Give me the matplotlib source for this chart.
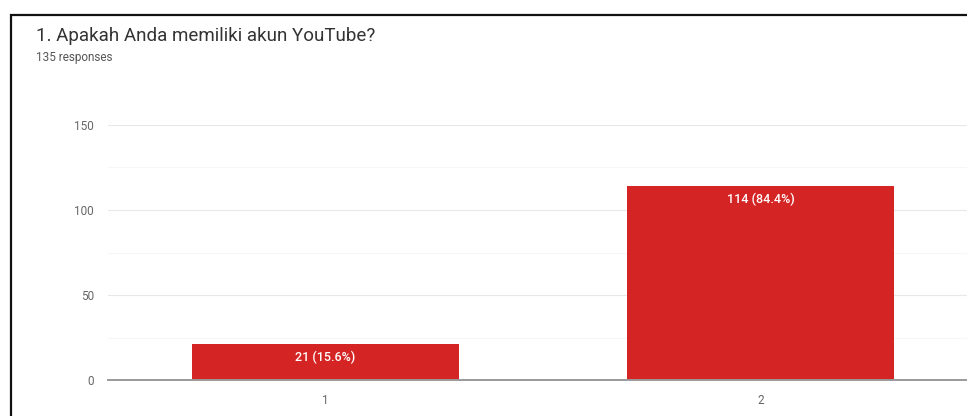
import matplotlib
matplotlib.use("Agg")
import matplotlib.pyplot as plt
from matplotlib.patches import Rectangle
from matplotlib.ticker import MultipleLocator

title = "1. Apakah Anda memiliki akun YouTube?"
subtitle = "135 responses"
categories = ["1", "2"]
values = [21, 114]
total = 135
yticks = [0, 50, 100, 150]

W, H = 967, 416
fig = plt.figure(figsize=(W / 100, H / 100), dpi=100)
fig.patch.set_facecolor("white")

# frame (cropped card border)
fig.add_artist(Rectangle((11 / W, -0.2), 1.2, (H - 15) / H + 0.2,
                         transform=fig.transFigure, fill=False,
                         edgecolor="#111111", linewidth=1.6))

fig.text(36 / W, 1 - 36 / H, title, fontsize=13.5, color="#333333",
         va="center", ha="left", family="Roboto")
fig.text(36 / W, 1 - 57 / H, subtitle, fontsize=8.5, color="#555555",
         va="center", ha="left", family="Roboto")

left, right = 108 / W, 978 / W
bottom, top = (H - 380) / H, (H - 125) / H
ax = fig.add_axes([left, bottom, right - left, top - bottom])
x = list(range(len(categories)))
bars = ax.bar(x, values, width=0.616, color="#d52424", zorder=3)
ax.set_xlim(-0.5, len(categories) - 0.5)
ax.set_ylim(0, 150)
ax.set_yticks(yticks)
ax.yaxis.set_minor_locator(MultipleLocator(25))
ax.set_xticks(x)
ax.set_xticklabels(categories)
ax.grid(axis="y", which="major", color="#e8e8e8", linewidth=0.8, zorder=0)
ax.grid(axis="y", which="minor", color="#f6f6f6", linewidth=0.8, zorder=0)
for s in ["top", "right", "left"]:
    ax.spines[s].set_visible(False)
ax.spines["bottom"].set_color("#9a9a9a")
ax.spines["bottom"].set_linewidth(1.4)
ax.spines["bottom"].set_zorder(4)
ax.tick_params(axis="both", which="both", length=0, labelsize=8.5,
               labelcolor="#666666")
ax.tick_params(axis="y", pad=10)
ax.tick_params(axis="x", pad=10)
for lab in ax.get_xticklabels() + ax.get_yticklabels():
    lab.set_family("Roboto")

for xi, v in zip(x, values):
    ax.annotate(f"{v} ({v / total * 100:.1f}%)", (xi, v), xytext=(0, -4.5),
                textcoords="offset points", ha="center", va="top",
                color="white", fontsize=9, fontweight="medium",
                family="Roboto", zorder=5)

fig.savefig("out.png", dpi=100, facecolor="white")
